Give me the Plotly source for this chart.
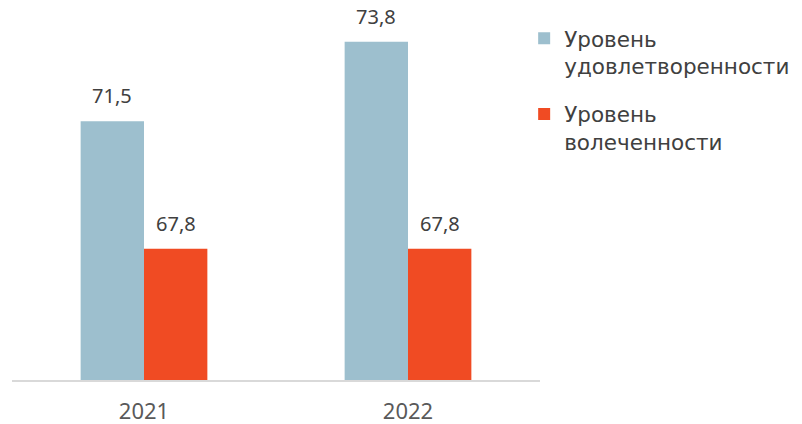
import plotly.graph_objects as go

years = ["2021", "2022"]
satisfaction = [71.5, 73.8]
engagement = [67.8, 67.8]
series_names = ["Уровень<br>удовлетворенности", "Уровень<br>волеченности"]
colors = ["#9DBFCE", "#F04B23"]

def fmt(v):
    return f"{v:.1f}".replace(".", ",")

FONT = "Noto Sans"
LEG_FONT = "DejaVu Sans"

fig = go.Figure()
for i, (name, vals, col) in enumerate(zip(series_names, [satisfaction, engagement], colors)):
    fig.add_trace(go.Bar(
        x=years, y=vals, name=name, legendgroup=f"g{i}",
        marker=dict(color=col, line=dict(width=0)),
        hoverinfo="skip",
    ))

# data labels (category index positions on the category axis)
for vals, shift in [(satisfaction, -32), (engagement, 32)]:
    for idx, v in enumerate(vals):
        fig.add_annotation(x=idx, y=v, text=fmt(v), showarrow=False,
                           xshift=shift, yanchor="bottom", yshift=10,
                           font=dict(family=FONT, size=20, color="#404040"))

# page body has an 8px default margin; figure sized to fit the 802x424 window
fig.update_layout(
    width=794, height=416,
    margin=dict(l=4, r=262, t=0, b=44, autoexpand=False),
    paper_bgcolor="white", plot_bgcolor="white",
    barmode="group", bargap=0.52, bargroupgap=0,
    font=dict(family=FONT, color="#404040"),
    legend=dict(x=0.970, xanchor="left", y=0.974, yanchor="top",
                font=dict(family=LEG_FONT, size=21.5, color="#404040"),
                tracegroupgap=17, itemwidth=30, traceorder="grouped",
                valign="top"),
    showlegend=True,
)
fig.update_xaxes(type="category", range=[-0.5, 1.5], showline=True,
                 linecolor="#D9D9D9", linewidth=1.5, automargin=False,
                 tickfont=dict(family=FONT, size=22, color="#595959"),
                 ticks="", ticklabelstandoff=11, showgrid=False)
fig.update_yaxes(range=[64, 74.78], visible=False, showgrid=False)

fig.write_html("out.html")
